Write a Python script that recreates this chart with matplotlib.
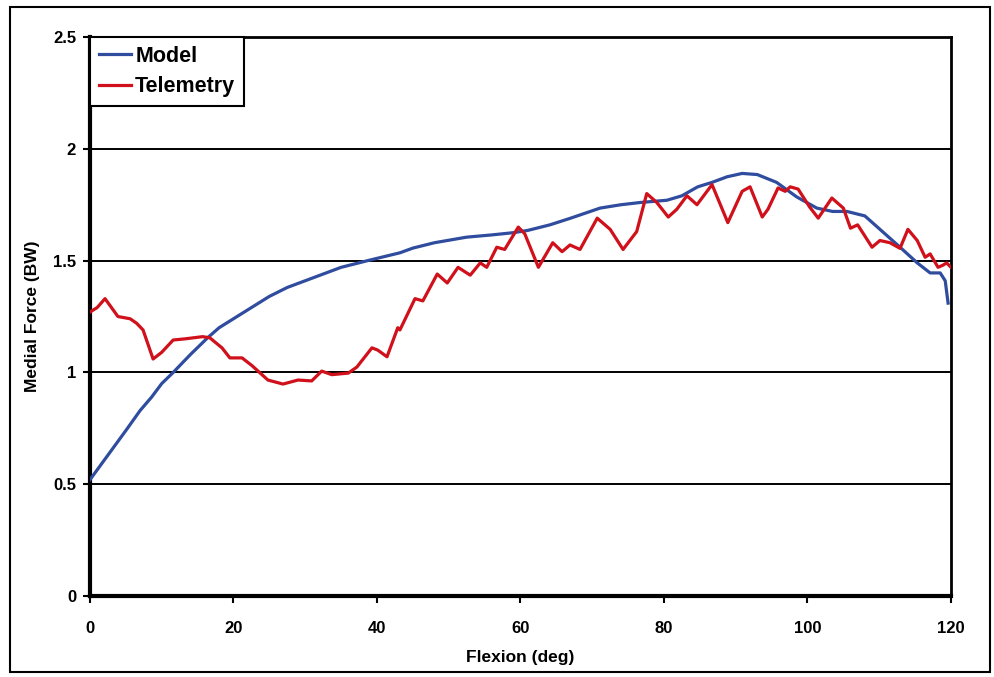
import matplotlib.pyplot as plt
from matplotlib.patches import Rectangle

# Model curve
model_x = [0, 2.5, 5, 7, 8.6, 10, 11.6, 14, 16.4, 18, 20, 22.5, 25, 27.5, 30, 32.5, 35,
           38.7, 43.2, 45, 48, 52.5, 56, 59, 61, 64.1, 67, 71.1, 74, 76.7, 80.4, 82.5,
           84.7, 86.7, 88.8, 90.9, 93, 95.7, 98.5, 101.3, 103.5, 105.5, 108, 110.1,
           112.9, 115.3, 117.1, 118.5, 119.2, 119.6]
model_y = [0.52, 0.63, 0.74, 0.83, 0.89, 0.95, 1.0, 1.08, 1.155, 1.2, 1.24, 1.29, 1.34,
           1.38, 1.41, 1.44, 1.47, 1.5, 1.535, 1.556, 1.58, 1.605, 1.615, 1.625, 1.635,
           1.66, 1.69, 1.735, 1.75, 1.76, 1.77, 1.79, 1.83, 1.85, 1.875, 1.89, 1.885,
           1.85, 1.785, 1.735, 1.72, 1.72, 1.70, 1.64, 1.56, 1.49, 1.445, 1.445, 1.41, 1.31]

# Telemetry trace
tele_x = [0, 1, 2.1, 3.0, 3.9, 5.6, 6.5, 7.4, 8.8, 10, 11.6, 13.2, 15.7, 16.7, 18.4, 19.5,
          21.2, 22.6, 24.8, 26.9, 29, 30.9, 32.3, 33.7, 36, 37.2, 39.3, 40.1, 41.4, 42.9,
          43.2, 45.3, 46.4, 48.4, 49.8, 51.3, 53, 54.4, 55.3, 56.7, 57.8, 59.7, 60.6,
          62.5, 64.5, 65.8, 66.9, 68.3, 70.7, 72.5, 74.3, 76.2, 77.6, 79, 80.6, 81.8,
          83.2, 84.6, 86.7, 88.9, 90.9, 92, 93.7, 94.5, 95.9, 96.9, 97.6, 98.7, 100.3,
          101.5, 103.4, 105, 106, 107, 109, 110.1, 111.5, 112.9, 114, 115.3, 116.4,
          117.1, 118.2, 118.9, 119.4, 120]
tele_y = [1.27, 1.29, 1.33, 1.29, 1.25, 1.24, 1.22, 1.19, 1.06, 1.09, 1.145, 1.15, 1.16,
          1.155, 1.11, 1.065, 1.065, 1.03, 0.966, 0.948, 0.966, 0.962, 1.006, 0.99, 0.997,
          1.024, 1.11, 1.10, 1.07, 1.2, 1.19, 1.33, 1.32, 1.44, 1.40, 1.47, 1.435, 1.49,
          1.47, 1.56, 1.55, 1.65, 1.62, 1.47, 1.58, 1.54, 1.57, 1.55, 1.69, 1.64, 1.55,
          1.63, 1.80, 1.76, 1.695, 1.73, 1.79, 1.75, 1.84, 1.67, 1.81, 1.83, 1.695, 1.73,
          1.825, 1.81, 1.83, 1.82, 1.74, 1.69, 1.78, 1.735, 1.645, 1.66, 1.56, 1.59, 1.58,
          1.555, 1.64, 1.59, 1.515, 1.53, 1.47, 1.48, 1.49, 1.47]

x_ticks = [0, 20, 40, 60, 80, 100, 120]
y_ticks = [0, 0.5, 1, 1.5, 2, 2.5]
y_tick_labels = ['0', '0.5', '1', '1.5', '2', '2.5']

plt.rcParams['font.family'] = ['Liberation Sans', 'DejaVu Sans']
plt.rcParams['font.weight'] = 'bold'

fig = plt.figure(figsize=(9.94, 6.77), dpi=100)
ax = fig.add_axes([0.0905, 0.1196, 0.8662, 0.8257])

# outer frame round the whole chart
fig.patches.append(Rectangle((0.01, 0.0075), 0.986, 0.982, transform=fig.transFigure,
                             fill=False, edgecolor='black', linewidth=1.5))

for yv in y_ticks[1:-1]:
    ax.axhline(yv, color='black', linewidth=1.4, zorder=1)

ax.plot(model_x, model_y, color='#2f4c9e', linewidth=2.3, label='Model', zorder=3)
ax.plot(tele_x, tele_y, color='#d0101a', linewidth=2.3, label='Telemetry', zorder=3)

ax.set_xlim(0, 120)
ax.set_ylim(0, 2.5)
ax.set_xticks(x_ticks)
ax.set_yticks(y_ticks)
ax.set_yticklabels(y_tick_labels)
ax.tick_params(direction='out', length=5, width=1.5, labelsize=12)
ax.tick_params(axis='x', pad=13)
ax.tick_params(axis='y', pad=5)
for side in ['left', 'bottom']:
    ax.spines[side].set_linewidth(3)
for side in ['top', 'right']:
    ax.spines[side].set_linewidth(2)

ax.set_xlabel('Flexion (deg)', fontsize=12.5, fontweight='bold', labelpad=10)
ax.set_ylabel('Medial Force (BW)', fontsize=12.5, fontweight='bold', labelpad=9)

leg = ax.legend(loc='upper left', bbox_to_anchor=(0, 1), borderaxespad=0,
                fancybox=False, framealpha=1, edgecolor='black',
                prop={'size': 15.5, 'weight': 'bold'}, handlelength=1.5,
                handletextpad=0.2, borderpad=0.4, labelspacing=0.45)
leg.get_frame().set_linewidth(1.5)

fig.savefig('out.png', dpi=100)
